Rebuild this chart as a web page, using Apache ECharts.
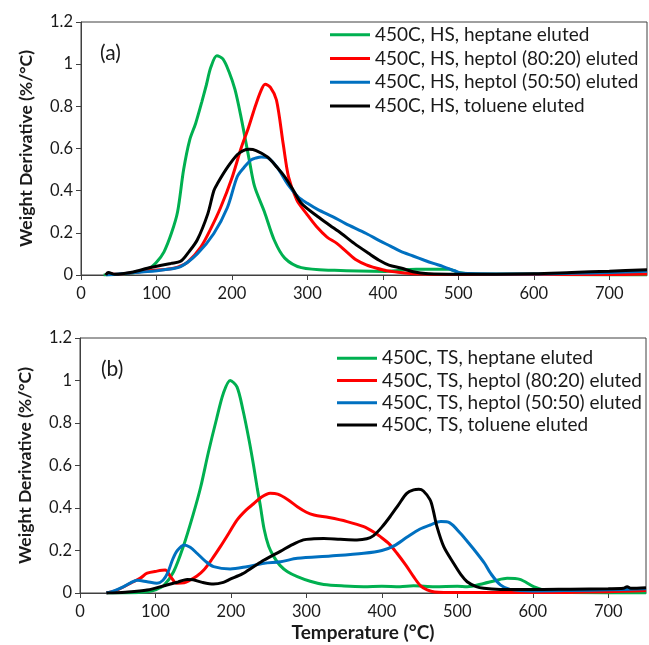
<!DOCTYPE html>
<html>
<head>
<meta charset="utf-8">
<script src="https://cdn.jsdelivr.net/npm/echarts@6/dist/echarts.min.js"></script>
<style>
  html, body { margin: 0; padding: 0; background: #fff; }
  #chart { width: 649px; height: 645px; }
</style>
</head>
<body>
<div id="chart"></div>
<script>
// Temperature ticks (°C) and derivative ticks (%/°C)
const tempTicks = [0, 100, 200, 300, 400, 500, 600, 700];
const derivTicks = [0, 0.2, 0.4, 0.6, 0.8, 1.0, 1.2];

// Panel (a): HS fractions
const hsHeptaneT = [30, 50, 70, 90, 100, 110, 120, 128, 136, 144, 152, 160, 166, 172, 180, 188, 196, 204, 212, 223, 230, 243, 256, 270, 292, 336, 403, 444, 488, 500, 520, 600, 700, 750];
const hsHeptaneV = [0, 0.003, 0.01, 0.03, 0.06, 0.11, 0.2, 0.3, 0.5, 0.64, 0.72, 0.82, 0.9, 0.985, 1.04, 1.025, 0.965, 0.88, 0.75, 0.545, 0.42, 0.3, 0.166, 0.08, 0.035, 0.022, 0.017, 0.027, 0.027, 0.012, 0.005, 0.003, 0.0, 0.0];

const hsHeptol8020T = [33, 36, 45, 70, 90, 119, 130, 141, 159, 172, 185, 200, 212, 222, 230, 238, 244, 251, 259, 268, 275, 286, 299, 312, 326, 339, 352, 365, 378, 392, 405, 418, 440, 500, 600, 700, 750];
const hsHeptol8020V = [0, 0.01, 0.003, 0.012, 0.02, 0.03, 0.04, 0.06, 0.134, 0.22, 0.32, 0.46, 0.6, 0.7, 0.79, 0.87, 0.905, 0.89, 0.83, 0.62, 0.466, 0.355, 0.29, 0.23, 0.18, 0.15, 0.11, 0.071, 0.048, 0.032, 0.02, 0.014, 0.006, 0.002, 0.002, 0.002, 0.005];

const hsHeptol5050T = [33, 50, 88, 110, 132, 154, 176, 194, 207, 216, 225, 232, 239, 248, 260, 274, 288, 300, 314, 334, 350, 378, 396, 410, 423, 440, 455, 467, 480, 495, 505, 550, 600, 650, 700, 750];
const hsHeptol5050V = [0, 0.005, 0.016, 0.025, 0.04, 0.1, 0.197, 0.32, 0.466, 0.51, 0.545, 0.555, 0.56, 0.555, 0.51, 0.43, 0.37, 0.34, 0.31, 0.276, 0.245, 0.197, 0.162, 0.137, 0.113, 0.09, 0.07, 0.055, 0.04, 0.02, 0.008, 0.005, 0.005, 0.008, 0.012, 0.018];

const hsTolueneT = [33, 36, 45, 70, 88, 105, 119, 132, 143, 154, 168, 176, 181, 194, 207, 215, 223, 232, 247, 260, 270, 280, 292, 314, 330, 345, 362, 381, 395, 408, 425, 440, 460, 500, 550, 600, 650, 700, 750];
const hsTolueneV = [0, 0.012, 0.003, 0.015, 0.032, 0.045, 0.055, 0.065, 0.11, 0.166, 0.29, 0.4, 0.435, 0.51, 0.57, 0.59, 0.596, 0.59, 0.56, 0.51, 0.466, 0.41, 0.34, 0.276, 0.235, 0.197, 0.15, 0.103, 0.07, 0.047, 0.032, 0.015, 0.006, 0.004, 0.004, 0.006, 0.012, 0.018, 0.025];

// Panel (b): TS fractions
const tsHeptaneT = [35, 60, 89, 100, 111, 124, 137, 150, 160, 170, 181, 190, 199, 208, 216, 224, 230, 235, 239, 244, 250, 257, 265, 275, 288, 305, 323, 350, 376, 400, 424, 442, 470, 500, 513, 535, 550, 566, 583, 601, 623, 650, 700, 750];
const tsHeptaneV = [0, 0, 0.006, 0.015, 0.035, 0.1, 0.22, 0.37, 0.5, 0.66, 0.82, 0.94, 1.0, 0.97, 0.86, 0.72, 0.6, 0.49, 0.41, 0.3, 0.22, 0.17, 0.13, 0.1, 0.077, 0.055, 0.04, 0.033, 0.03, 0.032, 0.03, 0.034, 0.03, 0.032, 0.03, 0.045, 0.058, 0.069, 0.064, 0.03, 0.006, 0.002, 0.0, 0.0];

const tsHeptol8020T = [35, 50, 67, 80, 89, 102, 113, 120, 128, 138, 146, 155, 164, 175, 186, 197, 208, 220, 230, 240, 252, 262, 275, 288, 300, 310, 330, 354, 376, 390, 398, 410, 420, 432, 442, 451, 460, 470, 500, 600, 700, 750];
const tsHeptol8020V = [0, 0.015, 0.046, 0.07, 0.093, 0.103, 0.108, 0.077, 0.046, 0.048, 0.061, 0.08, 0.108, 0.16, 0.218, 0.28, 0.343, 0.39, 0.42, 0.45, 0.469, 0.465, 0.44, 0.406, 0.38, 0.367, 0.355, 0.336, 0.312, 0.285, 0.265, 0.23, 0.187, 0.13, 0.077, 0.035, 0.015, 0.005, 0.002, 0.002, 0.006, 0.012];

const tsHeptol5050T = [35, 45, 58, 67, 76, 89, 102, 110, 116, 123, 129, 138, 146, 155, 166, 177, 199, 221, 244, 266, 288, 332, 376, 400, 416, 433, 450, 464, 478, 490, 504, 515, 526, 536, 544, 557, 570, 600, 650, 700, 750];
const tsHeptol5050V = [0, 0.01, 0.03, 0.048, 0.06, 0.053, 0.046, 0.06, 0.093, 0.16, 0.2, 0.226, 0.215, 0.187, 0.15, 0.124, 0.113, 0.124, 0.14, 0.147, 0.163, 0.174, 0.187, 0.2, 0.222, 0.262, 0.3, 0.32, 0.336, 0.33, 0.281, 0.235, 0.187, 0.14, 0.093, 0.038, 0.017, 0.01, 0.012, 0.015, 0.02];

const tsTolueneT = [35, 60, 89, 115, 130, 142, 150, 162, 177, 190, 199, 215, 230, 244, 266, 280, 296, 310, 323, 345, 367, 380, 389, 400, 411, 422, 433, 442, 449, 455, 464, 468, 473, 482, 495, 505, 513, 525, 535, 557, 600, 650, 700, 720, 725, 730, 750];
const tsTolueneV = [0, 0.004, 0.014, 0.038, 0.052, 0.064, 0.062, 0.05, 0.042, 0.05, 0.065, 0.09, 0.124, 0.155, 0.197, 0.225, 0.25, 0.255, 0.257, 0.253, 0.25, 0.255, 0.27, 0.31, 0.36, 0.415, 0.469, 0.485, 0.488, 0.48, 0.438, 0.39, 0.312, 0.218, 0.14, 0.085, 0.053, 0.03, 0.022, 0.017, 0.016, 0.018, 0.02, 0.022, 0.03, 0.022, 0.025];

const namesA = ['450C, HS, heptane eluted', '450C, HS, heptol (80:20) eluted', '450C, HS, heptol (50:50) eluted', '450C, HS, toluene eluted'];
const namesB = ['450C, TS, heptane eluted', '450C, TS, heptol (80:20) eluted', '450C, TS, heptol (50:50) eluted', '450C, TS, toluene eluted'];
const colors = ['#00B050', '#FF0000', '#0070C0', '#000000'];

const FONT = 'Lato, "Liberation Sans", sans-serif';
const TEXT = '#1a1a1a';

function zip(t, v) { return t.map((x, i) => [x, v[i]]); }

function lineSeries(name, t, v, color, idx) {
  return {
    type: 'line', name: name, data: zip(t, v),
    xAxisIndex: idx, yAxisIndex: idx,
    smooth: 0.3, showSymbol: false, symbol: 'none',
    lineStyle: { color: color, width: 3 },
    itemStyle: { color: color },
    z: 3
  };
}

function xAxisCfg(idx, withName) {
  const cfg = {
    type: 'value', gridIndex: idx, min: 0, max: 750,
    axisLine: { show: true, lineStyle: { color: '#404040', width: 1 } },
    axisTick: { show: true, length: 5, lineStyle: { color: '#404040' }, customValues: tempTicks },
    axisLabel: { fontFamily: FONT, fontSize: 16.5, color: TEXT, margin: 10, customValues: tempTicks },
    splitLine: { show: false }
  };
  if (withName) {
    cfg.name = 'Temperature (°C)';
    cfg.nameLocation = 'middle';
    cfg.nameGap = 30;
    cfg.nameTextStyle = { fontFamily: FONT, fontSize: 19, fontWeight: 'bold', color: TEXT };
  }
  return cfg;
}

function yAxisCfg(idx) {
  return {
    type: 'value', gridIndex: idx, min: 0, max: 1.2, interval: 0.2,
    axisLine: { show: true, lineStyle: { color: '#404040', width: 1 } },
    axisTick: { show: true, length: 5, lineStyle: { color: '#404040' } },
    axisLabel: { fontFamily: FONT, fontSize: 16.5, color: TEXT, margin: 8,
      formatter: v => String(Math.round(v * 10) / 10) },
    splitLine: { show: false },
    name: 'Weight Derivative (%/°C)',
    nameLocation: 'middle', nameRotate: 90, nameGap: 46,
    nameTextStyle: { fontFamily: FONT, fontSize: 17.5, fontWeight: 'bold', color: TEXT }
  };
}

function legendCfg(names, left, top, lh) {
  return {
    data: names, orient: 'vertical', left: left, top: top, padding: 0,
    icon: 'rect', itemWidth: 40, itemHeight: 3, itemGap: 0,
    textStyle: { fontFamily: FONT, fontSize: 19, color: TEXT, lineHeight: lh },
    selectedMode: false
  };
}

const chart = echarts.init(document.getElementById('chart'), null, { renderer: 'canvas' });
chart.setOption({
  animation: false,
  backgroundColor: '#ffffff',
  grid: [
    { left: 81, top: 22, width: 566, height: 253, show: true, borderColor: '#404040', borderWidth: 1 },
    { left: 80, top: 338, width: 566, height: 255, show: true, borderColor: '#404040', borderWidth: 1 }
  ],
  xAxis: [xAxisCfg(0, false), xAxisCfg(1, true)],
  yAxis: [yAxisCfg(0), yAxisCfg(1)],
  legend: [legendCfg(namesA, 330, 23, 23.7), legendCfg(namesB, 337, 347, 22.3)],
  graphic: [
    { type: 'text', left: 100, top: 43, style: { text: '(a)', fontFamily: FONT, fontSize: 21, fill: TEXT } },
    { type: 'text', left: 101, top: 359, style: { text: '(b)', fontFamily: FONT, fontSize: 21, fill: TEXT } }
  ],
  series: [
    lineSeries(namesA[0], hsHeptaneT, hsHeptaneV, colors[0], 0),
    lineSeries(namesA[1], hsHeptol8020T, hsHeptol8020V, colors[1], 0),
    lineSeries(namesA[2], hsHeptol5050T, hsHeptol5050V, colors[2], 0),
    lineSeries(namesA[3], hsTolueneT, hsTolueneV, colors[3], 0),
    lineSeries(namesB[0], tsHeptaneT, tsHeptaneV, colors[0], 1),
    lineSeries(namesB[1], tsHeptol8020T, tsHeptol8020V, colors[1], 1),
    lineSeries(namesB[2], tsHeptol5050T, tsHeptol5050V, colors[2], 1),
    lineSeries(namesB[3], tsTolueneT, tsTolueneV, colors[3], 1)
  ]
});
</script>
</body>
</html>
